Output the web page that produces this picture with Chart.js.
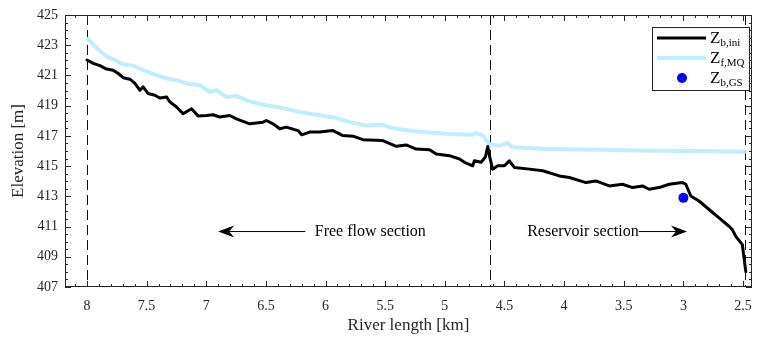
<!DOCTYPE html>
<html><head><meta charset="utf-8">
<script src="https://cdn.jsdelivr.net/npm/chart.js@4/dist/chart.umd.min.js"></script>
<style>html,body{margin:0;padding:0;background:#fff;}#wrap{width:757px;height:339px;}</style>
</head><body><div id="wrap"><canvas id="c" width="757" height="339"></canvas></div>
<script>
// ---- data ----
const bedKm = [8.000,7.947,7.891,7.835,7.780,7.738,7.696,7.640,7.598,7.556,7.529,7.487,7.431,7.389,7.333,7.305,7.249,7.194,7.123,7.068,6.998,6.943,6.887,6.803,6.747,6.635,6.524,6.496,6.440,6.384,6.328,6.231,6.200,6.133,6.050,5.938,5.854,5.770,5.687,5.520,5.407,5.324,5.240,5.128,5.072,4.961,4.877,4.835,4.766,4.752,4.696,4.660,4.640,4.626,4.599,4.557,4.501,4.459,4.417,4.291,4.180,4.040,3.956,3.817,3.733,3.622,3.510,3.427,3.343,3.287,3.204,3.120,3.008,2.980,2.938,2.869,2.785,2.701,2.618,2.590,2.561,2.506,2.477];
const bedZ = [422.02,421.80,421.65,421.42,421.35,421.13,420.85,420.75,420.47,420.02,420.25,419.80,419.69,419.51,419.58,419.25,418.91,418.47,418.80,418.31,418.35,418.40,418.25,418.35,418.13,417.80,417.91,418.02,417.80,417.47,417.58,417.35,417.07,417.25,417.25,417.35,417.02,416.98,416.75,416.69,416.31,416.40,416.13,416.09,415.80,415.69,415.47,415.25,415.02,415.35,415.25,415.60,416.30,415.69,414.80,415.02,415.02,415.35,414.91,414.80,414.69,414.35,414.25,413.91,414.02,413.69,413.80,413.58,413.69,413.47,413.58,413.80,413.91,413.80,413.02,412.69,412.13,411.58,411.02,410.80,410.35,409.80,408.02];
const wsKm = [8.000,7.958,7.902,7.835,7.766,7.696,7.612,7.529,7.417,7.333,7.249,7.165,7.054,6.970,6.914,6.830,6.747,6.663,6.552,6.496,6.357,6.217,6.077,5.910,5.798,5.658,5.520,5.436,5.240,4.961,4.766,4.738,4.682,4.626,4.542,4.473,4.431,4.124,3.900,3.705,3.500,3.287,3.000,2.700,2.477];
const wsZ = [423.51,423.13,422.69,422.25,422.02,421.73,421.65,421.35,421.02,420.80,420.69,420.47,420.35,419.91,420.02,419.58,419.65,419.35,419.13,419.02,418.85,418.58,418.40,418.18,417.91,417.69,417.73,417.51,417.29,417.13,417.07,417.20,417.02,416.47,416.35,416.53,416.25,416.13,416.10,416.09,416.05,416.02,416.00,415.98,415.95];
const gaugeKm = [3.0];
const gaugeZ = [412.9];
const xTickValues = [8,7.5,7,6.5,6,5.5,5,4.5,4,3.5,3,2.5];
const yTickValues = [407,409,411,413,415,417,419,421,423,425];
const sectionBounds = [8, 4.62, 2.48];
const sectionLabels = ['Free flow section', 'Reservoir section'];
const legendItems = [['Z','b,ini'],['Z','f,MQ'],['Z','b,GS']];

const FONT = "'Liberation Serif', 'Times New Roman', serif";
const AX = '#262626';
const BLACK = '#000000';
const CYAN = '#bfeefd';
const BLUE = '#0000ff';

const toPts = (xs, ys) => xs.map((x, i) => ({x: x, y: ys[i]}));

const decorPlugin = {
  id: 'decor',
  beforeDatasetsDraw(chart) {
    const {ctx, chartArea: a, scales: {x}} = chart;
    ctx.save();
    ctx.strokeStyle = '#111';
    ctx.lineWidth = 1;
    ctx.setLineDash([10, 5]);
    sectionBounds.forEach(v => {
      const px = Math.round(x.getPixelForValue(v)) + 0.5;
      ctx.beginPath(); ctx.moveTo(px, a.top); ctx.lineTo(px, a.bottom); ctx.stroke();
    });
    ctx.restore();
  },
  afterDraw(chart) {
    const {ctx, chartArea: a, scales: {x, y}} = chart;
    ctx.save();
    ctx.strokeStyle = AX; ctx.lineWidth = 1;
    ctx.strokeRect(a.left + 0.5, a.top + 0.5, a.right - a.left - 1, a.bottom - a.top - 1);
    const major = 6, minor = 3;
    ctx.beginPath();
    for (let k = 24; k <= 81; k++) {
      const v = k / 10;
      const px = Math.round(x.getPixelForValue(v)) + 0.5;
      if (px < a.left + 1 || px > a.right - 1) continue;
      const len = (k % 5 === 0) ? major : minor;
      ctx.moveTo(px, a.bottom); ctx.lineTo(px, a.bottom - len);
      ctx.moveTo(px, a.top); ctx.lineTo(px, a.top + len);
    }
    for (let k = 0; k <= 36; k++) {
      const v = 407 + k * 0.5;
      const py = Math.round(y.getPixelForValue(v)) + 0.5;
      const len = (k % 4 === 0) ? major : minor;
      ctx.moveTo(a.left, py); ctx.lineTo(a.left + len, py);
      ctx.moveTo(a.right, py); ctx.lineTo(a.right - len, py);
    }
    ctx.stroke();

    const ay = y.getPixelForValue(410.67);
    ctx.fillStyle = '#000'; ctx.strokeStyle = '#000';
    ctx.font = '16px ' + FONT;
    ctx.textBaseline = 'middle'; ctx.textAlign = 'left';
    const arrow = (x0, x1) => {
      const dir = Math.sign(x1 - x0);
      ctx.beginPath(); ctx.lineWidth = 1;
      ctx.moveTo(x0, ay); ctx.lineTo(x1 - dir * 6, ay); ctx.stroke();
      ctx.beginPath();
      ctx.moveTo(x1, ay);
      ctx.lineTo(x1 - dir * 16, ay - 6);
      ctx.lineTo(x1 - dir * 11, ay);
      ctx.lineTo(x1 - dir * 16, ay + 6);
      ctx.closePath(); ctx.fill();
    };
    const t1x = x.getPixelForValue(6.09);
    ctx.fillText(sectionLabels[0], t1x, ay);
    arrow(x.getPixelForValue(6.17), x.getPixelForValue(6.90));
    const t2x = x.getPixelForValue(4.31);
    ctx.fillText(sectionLabels[1], t2x, ay);
    const w2 = ctx.measureText(sectionLabels[1]).width;
    arrow(t2x + w2, x.getPixelForValue(2.97));

    const bx = 652, by = 27, bw = 97, bh = 63;
    ctx.fillStyle = '#fff'; ctx.fillRect(bx, by, bw, bh);
    ctx.strokeStyle = AX; ctx.lineWidth = 1;
    ctx.strokeRect(bx + 0.5, by + 0.5, bw, bh);
    const rows = [38, 58, 78];
    const styles = [{c: BLACK, w: 3}, {c: CYAN, w: 4}, null];
    rows.forEach((ry, i) => {
      if (styles[i]) {
        ctx.strokeStyle = styles[i].c; ctx.lineWidth = styles[i].w;
        ctx.beginPath(); ctx.moveTo(657, ry); ctx.lineTo(706, ry); ctx.stroke();
      } else {
        ctx.fillStyle = BLUE;
        ctx.beginPath(); ctx.arc(682, ry, 5, 0, Math.PI * 2); ctx.fill();
      }
      ctx.fillStyle = '#000';
      ctx.textBaseline = 'alphabetic';
      ctx.font = '17px ' + FONT;
      ctx.fillText(legendItems[i][0], 710, ry + 5);
      const zw = ctx.measureText(legendItems[i][0]).width;
      ctx.font = '11px ' + FONT;
      ctx.fillText(legendItems[i][1], 710 + zw, ry + 8);
    });
    ctx.restore();
  }
};

new Chart(document.getElementById('c'), {
  type: 'scatter',
  data: {
    datasets: [
      {label: 'Zb,ini', data: toPts(bedKm, bedZ), showLine: true, borderColor: BLACK, borderWidth: 3, borderJoinStyle: 'round', borderCapStyle: 'round', pointRadius: 0, tension: 0, order: 1},
      {label: 'Zf,MQ', data: toPts(wsKm, wsZ), showLine: true, borderColor: CYAN, borderWidth: 4, borderJoinStyle: 'round', pointRadius: 0, tension: 0, order: 2},
      {label: 'Zb,GS', data: toPts(gaugeKm, gaugeZ), showLine: false, backgroundColor: BLUE, borderColor: BLUE, pointRadius: 5, pointBorderWidth: 0, order: 0}
    ]
  },
  options: {
    responsive: false, animation: false, devicePixelRatio: 1,
    layout: {padding: {left: 0, right: 5, top: 15, bottom: 0}},
    plugins: {legend: {display: false}, tooltip: {enabled: false}},
    scales: {
      x: {
        type: 'linear', reverse: true, min: 2.425, max: 8.184,
        grid: {display: false, drawTicks: false},
        border: {display: false},
        afterBuildTicks: s => { s.ticks = xTickValues.map(v => ({value: v})); },
        afterFit: s => { s.height = 52; s.paddingLeft = 0; s.paddingRight = 0; },
        ticks: {autoSkip: false, maxRotation: 0, padding: 11, color: AX, font: {family: FONT, size: 14},
          callback: v => String(v)},
        title: {display: true, text: 'River length [km]', color: AX, font: {family: FONT, size: 17}, padding: {top: 0, bottom: 3}}
      },
      y: {
        type: 'linear', min: 407, max: 425,
        grid: {display: false, drawTicks: false},
        border: {display: false},
        afterBuildTicks: s => { s.ticks = yTickValues.map(v => ({value: v})); },
        afterFit: s => { s.width = 65; s.paddingTop = 0; s.paddingBottom = 0; },
        ticks: {autoSkip: false, padding: 7, color: AX, font: {family: FONT, size: 14}},
        title: {display: true, text: 'Elevation [m]', color: AX, font: {family: FONT, size: 17}, padding: {top: 8, bottom: 0}}
      }
    }
  },
  plugins: [decorPlugin]
});
</script></body></html>
